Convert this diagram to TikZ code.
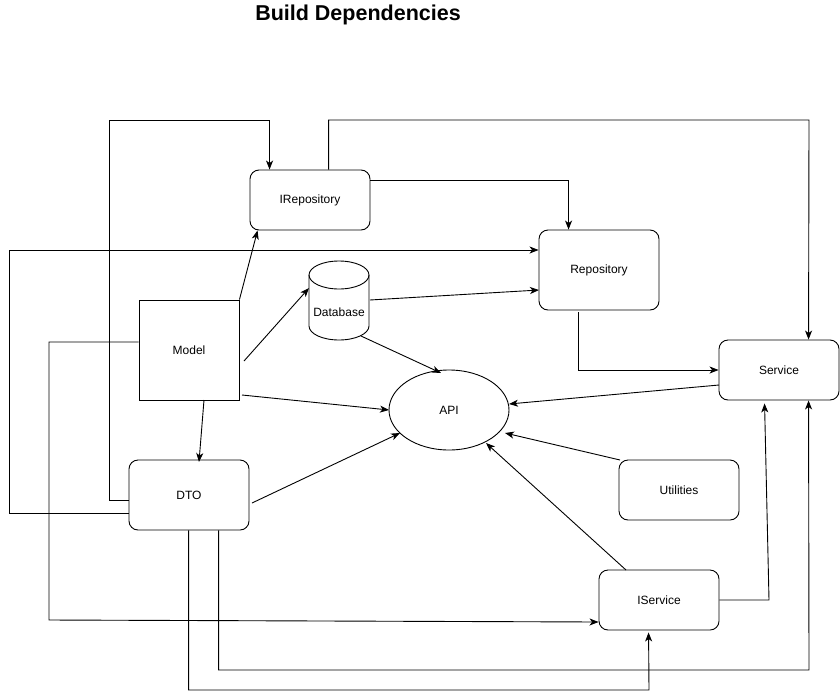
\documentclass[tikz,border=0pt]{standalone}
\usepackage{fontspec}
\setmainfont{Liberation Sans}
\usetikzlibrary{shapes.geometric,arrows.meta,calc}
\begin{document}
\begin{tikzpicture}[x=1pt,y=-1pt,
  every node/.style={font=\fontsize{12}{14}\selectfont, inner sep=0pt},
  rbox/.style={draw, line width=0.9pt, rounded corners=9pt, minimum width=120pt},
  sbox/.style={draw, line width=0.9pt, minimum width=100pt, minimum height=100pt},
  conn/.style={line width=0.9pt, -{Stealth[length=9pt,width=7pt,inset=2.5pt]}},
]
\useasboundingbox (0,0) rectangle (840,699);
\node[font=\fontsize{21.5}{24}\selectfont\bfseries] (title) at (358,15) {Build Dependencies};

\node[rbox, minimum height=60pt] (irepo) at (310,200) {IRepository};
\node[rbox, minimum height=80pt] (repo) at (599,270) {Repository};
\node[rbox, minimum height=60pt] (service) at (779,370) {Service};
\node[sbox] (model) at (189,350) {Model};
\node[minimum width=60pt, minimum height=80pt] (db) at (339,300) {};
\draw[line width=0.9pt] (309,275) -- (309,326) arc[start angle=180, end angle=0, x radius=30, y radius=14] -- (369,275);
\draw[line width=0.9pt] (339,275) ellipse[x radius=30, y radius=14];
\node (dbtext) at (339,312) {Database};
\node[draw, ellipse, line width=0.9pt, minimum width=120pt, minimum height=80pt] (api) at (449,410) {API};
\node[rbox, minimum height=70pt] (dto) at (189,495) {DTO};
\node[rbox, minimum height=60pt] (util) at (679,490) {Utilities};
\node[rbox, minimum height=60pt] (iserv) at (659,600) {IService};

% orthogonal connectors
\draw[conn] ($(dto.west)+(0,5)$) -| (109,120) -| ($(irepo.north west)+(20,0)$);
\draw[conn] ($(irepo.north west)+(79,0)$) |- (809,120) -- ($(service.north west)+(90,0)$);
\draw[conn] ($(irepo.east)+(0,-20)$) -| ($(repo.north west)+(30,0)$);
\draw[conn] ($(dto.west)+(0,18)$) -| (9,250) -- ($(repo.west)+(0,-20)$);
\draw[conn] ($(model.west)+(0,-8)$) -| (49,620) -- ($(iserv.west)+(0,22)$);
\draw[conn] ($(repo.south west)+(40,2)$) |- (service.west);
\draw[conn] ($(iserv.east)$) -- (769,600) -- ($(service.south west)+(46,3)$);
\draw[conn] ($(dto.south west)+(90,0)$) |- (809,670) -- ($(service.south west)+(90,0)$);
\draw[conn] ($(dto.south west)+(60,0)$) |- (649,690) -- ($(iserv.south west)+(50,2)$);

% straight connectors
\draw[conn] (model.north east) -- ($(irepo.south west)+(8,0)$);
\draw[conn] (244,361) -- (309,288);
\draw[conn] (242,395) -- (389,410);
\draw[conn] (204,400) -- (199,462);
\draw[conn] (370,300) -- (539,290);
\draw[conn] (361,336) -- (441,373);
\draw[conn] (719,385) -- (509,404);
\draw[conn] (252,503) -- (400,433);
\draw[conn] (620,460) -- (505,433);
\draw[conn] (626,570) -- (486,443);
\end{tikzpicture}
\end{document}
